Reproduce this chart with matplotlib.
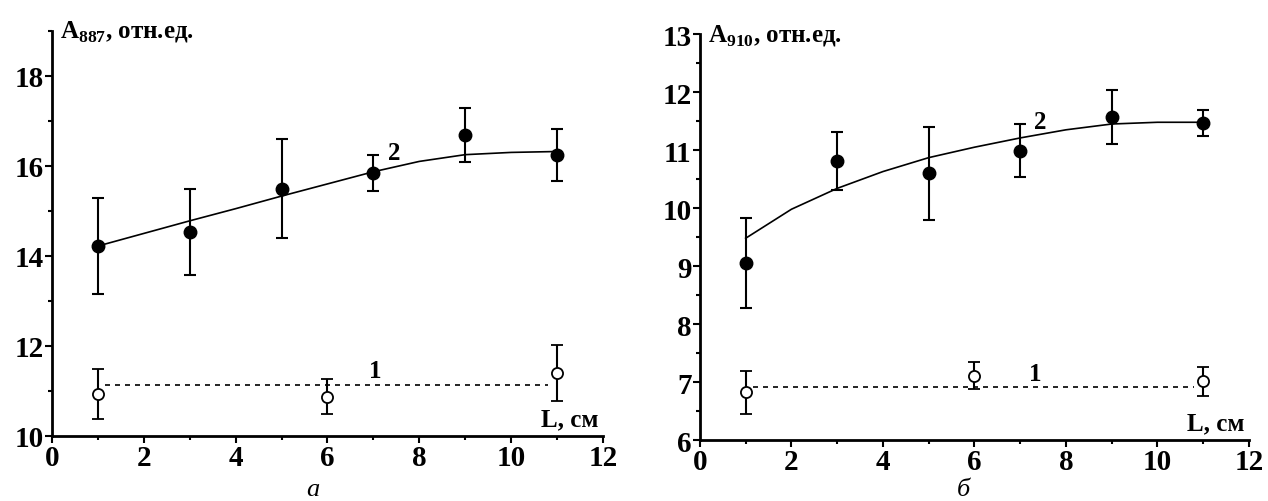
import matplotlib
matplotlib.use("Agg")
import matplotlib.pyplot as plt
from matplotlib.ticker import MultipleLocator

plt.rcParams['font.family'] = ['Liberation Serif', 'DejaVu Serif']
plt.rcParams['mathtext.fontset'] = 'custom'
plt.rcParams['mathtext.rm'] = 'Liberation Serif'
plt.rcParams['mathtext.bf'] = 'Liberation Serif:bold'

# panel a
a_x2 = [1, 3, 5, 7, 9, 11]
a_y2 = [14.22, 14.53, 15.49, 15.85, 16.69, 16.24]
a_e2 = [1.07, 0.95, 1.1, 0.4, 0.6, 0.58]
a_x1 = [1, 6, 11]
a_y1 = [10.93, 10.87, 11.4]
a_e1 = [0.56, 0.39, 0.62]
a_line1 = 11.13
a_cx = [1, 2, 3, 4, 5, 6, 7, 8, 9, 10, 11]
a_cy = [14.22, 14.5, 14.78, 15.05, 15.33, 15.6, 15.87, 16.1, 16.25, 16.3, 16.32]

# panel б
b_x2 = [1, 3, 5, 7, 9, 11]
b_y2 = [9.05, 10.82, 10.6, 10.99, 11.57, 11.47]
b_e2 = [0.78, 0.5, 0.8, 0.46, 0.46, 0.23]
b_x1 = [1, 6, 11]
b_y1 = [6.82, 7.11, 7.01]
b_e1 = [0.37, 0.23, 0.25]
b_line1 = 6.91
b_cx = [1, 2, 3, 4, 5, 6, 7, 8, 9, 10, 11]
b_cy = [9.48, 9.98, 10.34, 10.63, 10.87, 11.05, 11.21, 11.35, 11.45, 11.48, 11.48]

fig = plt.figure(figsize=(12.68, 5.02), dpi=100)
ax1 = fig.add_axes([0.041, 0.1295, 0.4345, 0.807])
ax2 = fig.add_axes([0.552, 0.1215, 0.433, 0.8085])


def draw(ax, x2, y2, e2, x1, y1, e1, line1, cx, cy, ylim, ymajor, lab1, lab2, ylabel_sub):
    ax.plot(cx, cy, color='black', lw=1.2, zorder=2)
    ax.plot([1.15, 10.8], [line1, line1], color='black', lw=1.2, ls=(0, (3, 3)), zorder=2)
    ax.errorbar(x2, y2, yerr=e2, fmt='o', color='black', ms=9, capsize=4,
                elinewidth=1.5, capthick=1.5, zorder=3)
    ax.errorbar(x1, y1, yerr=e1, fmt='o', color='black', mfc='white', mec='black',
                mew=1.3, ms=8, capsize=4, elinewidth=1.5, capthick=1.5, zorder=3)
    ax.set_xlim(0, 12)
    ax.set_ylim(*ylim)
    ax.spines['top'].set_visible(False)
    ax.spines['right'].set_visible(False)
    ax.spines['left'].set_linewidth(2)
    ax.spines['bottom'].set_linewidth(2)
    ax.xaxis.set_major_locator(MultipleLocator(2))
    ax.xaxis.set_minor_locator(MultipleLocator(1))
    ax.yaxis.set_major_locator(MultipleLocator(ymajor))
    ax.yaxis.set_minor_locator(MultipleLocator(ymajor / 2))
    ax.tick_params(which='major', direction='out', length=5, width=1.5, labelsize=21, pad=1)
    ax.tick_params(which='minor', direction='out', length=3, width=1.5)
    for t in ax.get_xticklabels() + ax.get_yticklabels():
        t.set_fontweight('bold')
    ax.text(lab1[0], lab1[1], '1', fontsize=18, fontweight='bold', ha='center', va='bottom')
    ax.text(lab2[0], lab2[1], '2', fontsize=18, fontweight='bold', ha='center', va='bottom')
    ax.text(11.9, ylim[0] + (ylim[1] - ylim[0]) * 0.015, 'L, см', fontsize=18,
            fontweight='bold', ha='right', va='bottom')
    ax.text(0.015, 1.0, r'A$_{\mathbf{' + ylabel_sub + r'}}$, отн.ед.', transform=ax.transAxes,
            fontsize=18, fontweight='bold', ha='left', va='center')


draw(ax1, a_x2, a_y2, a_e2, a_x1, a_y1, a_e1, a_line1, a_cx, a_cy,
     (10, 19), 2, (7.04, 11.2), (7.45, 16.05), '887')
draw(ax2, b_x2, b_y2, b_e2, b_x1, b_y1, b_e1, b_line1, b_cx, b_cy,
     (6, 13), 1, (7.32, 6.95), (7.43, 11.3), '910')

fig.text(0.247, 0.012, 'а', fontsize=19, style='italic', ha='center')
fig.text(0.76, 0.012, 'б', fontsize=19, style='italic', ha='center')

fig.savefig('out.png', dpi=100)
